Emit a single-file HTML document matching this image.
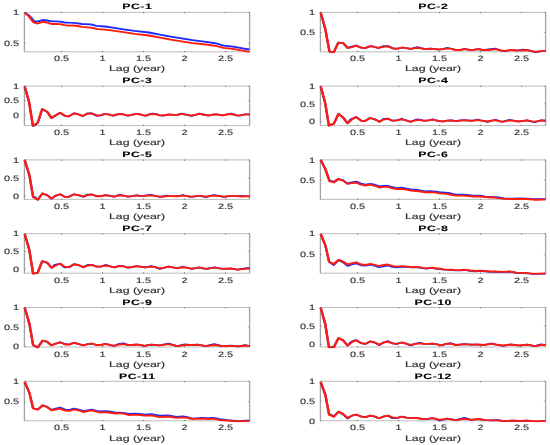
<!DOCTYPE html><html><head><meta charset="utf-8"><style>html,body{margin:0;padding:0;background:#fff;}svg{display:block}text{font-family:"Liberation Sans",sans-serif;fill:#2a2a2a;stroke:#2a2a2a;stroke-width:0.25px;text-rendering:geometricPrecision}</style></head><body>
<svg width="550" height="445" viewBox="0 0 550 445">
<defs><filter id="bl" x="-5%" y="-5%" width="110%" height="110%"><feGaussianBlur stdDeviation="0.40"/></filter></defs>
<rect width="550" height="445" fill="#fff"/>
<g filter="url(#bl)">
<path d="M23.95 12.30H250.05M23.95 51.80H250.05" stroke="#b4b4b4" stroke-width="0.90" fill="none"/>
<path d="M24.40 12.30V51.80M249.60 12.30V51.80" stroke="#a2a2a2" stroke-width="1.30" fill="none"/>
<path d="M61.60 52.10v-1.20M61.60 12.00v1.20" stroke="#6a6a6a" stroke-width="0.9"/>
<path d="M102.60 52.10v-1.20M102.60 12.00v1.20" stroke="#6a6a6a" stroke-width="0.9"/>
<path d="M143.60 52.10v-1.20M143.60 12.00v1.20" stroke="#6a6a6a" stroke-width="0.9"/>
<path d="M184.60 52.10v-1.20M184.60 12.00v1.20" stroke="#6a6a6a" stroke-width="0.9"/>
<path d="M225.60 52.10v-1.20M225.60 12.00v1.20" stroke="#6a6a6a" stroke-width="0.9"/>
<path d="M24.40 43.35h1.80M249.60 43.35h-1.80" stroke="#8c8c8c" stroke-width="0.7"/>
<path d="M24.40 12.30h1.80M249.60 12.30h-1.80" stroke="#8c8c8c" stroke-width="0.7"/>
<svg x="22.90" y="10.80" width="227.00" height="42.50" viewBox="22.90 10.80 227.00 42.50" overflow="hidden">
<g transform="translate(24.40 0) scale(1.300 1)"><polyline points="0.23,12.6 3.62,15.6 7.38,21.1 10.77,21.3 14.08,20.0 17.46,20.5 20.85,21.3 24.15,21.3 27.54,21.6 30.85,22.5 34.23,22.7 37.62,22.8 40.92,23.3 44.31,24.0 51.15,24.4 55.38,25.8 62.08,26.5 67.92,27.6 76.31,29.3 84.69,30.9 95.77,32.5 104.15,34.7 112.54,36.6 120.92,38.3 129.31,40.2 139.62,41.8 148.00,43.5 153.08,45.6 160.62,46.7 169.00,48.6 173.15,49.5" fill="none" stroke="#1a2aff" stroke-width="1.85" stroke-linejoin="round" stroke-linecap="butt"/></g>
<g transform="translate(24.40 0) scale(1.300 1)"><polyline points="0.23,12.6 3.62,16.5 7.00,22.4 10.31,23.5 14.08,21.9 17.46,22.5 20.85,24.0 24.15,23.8 27.54,24.1 30.85,25.1 34.23,25.7 37.62,25.5 40.92,26.0 44.31,26.8 51.15,27.6 56.23,29.1 62.08,29.6 67.92,30.7 76.31,32.2 84.69,33.9 95.77,35.5 104.15,37.7 112.54,39.6 120.92,41.3 129.31,43.1 139.62,44.5 148.00,46.2 153.08,47.8 160.62,48.9 169.00,50.8 173.15,51.9" fill="none" stroke="#ff1a0a" stroke-width="1.85" stroke-linejoin="round" stroke-linecap="butt"/></g>
</svg>
<text font-size="7.80" text-anchor="middle" style="stroke-width:0.1px" transform="translate(61.60 61.40) scale(1.400 1)">0.5</text>
<text font-size="7.80" text-anchor="middle" style="stroke-width:0.1px" transform="translate(102.60 61.40) scale(1.400 1)">1</text>
<text font-size="7.80" text-anchor="middle" style="stroke-width:0.1px" transform="translate(143.60 61.40) scale(1.400 1)">1.5</text>
<text font-size="7.80" text-anchor="middle" style="stroke-width:0.1px" transform="translate(184.60 61.40) scale(1.400 1)">2</text>
<text font-size="7.80" text-anchor="middle" style="stroke-width:0.1px" transform="translate(225.60 61.40) scale(1.400 1)">2.5</text>
<text font-size="7.80" text-anchor="end" style="stroke-width:0.1px" transform="translate(19.20 46.05) scale(1.400 1)">0.5</text>
<text font-size="7.80" text-anchor="end" style="stroke-width:0.1px" transform="translate(19.20 15.00) scale(1.400 1)">1</text>
<text font-size="7.90" text-anchor="middle" style="stroke-width:0.12px" transform="translate(137.00 70.90) scale(1.557 1)">Lag (year)</text>
<text font-size="7.80" font-weight="bold" text-anchor="middle" letter-spacing="0.30" transform="translate(137.24 9.20) scale(1.580 1)" style="fill:#000;stroke:#000;stroke-width:0.1px">PC-1</text>
<path d="M319.95 12.30H546.05M319.95 51.80H546.05" stroke="#b4b4b4" stroke-width="0.90" fill="none"/>
<path d="M320.40 12.30V51.80M545.60 12.30V51.80" stroke="#a2a2a2" stroke-width="1.30" fill="none"/>
<path d="M357.60 52.10v-1.20M357.60 12.00v1.20" stroke="#6a6a6a" stroke-width="0.9"/>
<path d="M398.60 52.10v-1.20M398.60 12.00v1.20" stroke="#6a6a6a" stroke-width="0.9"/>
<path d="M439.60 52.10v-1.20M439.60 12.00v1.20" stroke="#6a6a6a" stroke-width="0.9"/>
<path d="M480.60 52.10v-1.20M480.60 12.00v1.20" stroke="#6a6a6a" stroke-width="0.9"/>
<path d="M521.60 52.10v-1.20M521.60 12.00v1.20" stroke="#6a6a6a" stroke-width="0.9"/>
<path d="M320.40 32.45h1.80M545.60 32.45h-1.80" stroke="#8c8c8c" stroke-width="0.7"/>
<path d="M320.40 12.30h1.80M545.60 12.30h-1.80" stroke="#8c8c8c" stroke-width="0.7"/>
<svg x="318.90" y="10.80" width="227.00" height="42.50" viewBox="318.90 10.80 227.00 42.50" overflow="hidden">
<g transform="translate(320.40 0) scale(1.300 1)"><polyline points="0.23,12.6 3.62,28.2 7.00,51.6 10.31,52.2 13.69,42.7 17.46,43.1 20.85,47.7 24.15,46.6 27.54,45.6 30.85,47.5 34.23,48.1 38.46,46.2 41.77,46.9 44.31,48.0 48.62,46.1 52.00,46.1 56.23,48.6 59.54,48.7 62.92,47.5 67.08,48.4 69.62,48.9 73.85,47.2 76.31,47.5 78.00,48.4 80.54,49.1 84.69,48.6 88.92,49.2 90.77,49.5 94.08,49.2 97.46,47.8 100.85,48.7 104.15,50.0 107.54,50.0 110.85,48.7 115.08,50.0 118.46,49.7 121.77,49.1 125.15,50.0 129.31,49.4 134.69,48.7 138.85,50.5 141.38,51.3 146.38,50.0 151.46,50.5 155.62,49.6 159.00,50.0 162.38,51.1 165.69,52.1 169.92,51.1 173.23,51.2" fill="none" stroke="#1a2aff" stroke-width="1.70" stroke-linejoin="round" stroke-linecap="butt"/></g>
<g transform="translate(320.40 0) scale(1.300 1)"><polyline points="0.23,12.6 3.62,28.2 7.00,51.6 10.31,52.2 13.69,42.7 17.46,43.1 20.85,48.1 24.15,47.1 27.54,45.6 30.85,47.5 34.23,48.1 38.46,46.2 41.77,46.9 44.31,48.0 48.62,46.7 52.00,46.4 56.23,48.6 59.54,48.7 62.92,47.5 67.08,48.4 69.62,48.9 73.85,47.8 78.00,48.4 80.54,49.1 84.69,48.6 88.92,49.2 90.77,49.5 94.08,49.2 97.46,48.4 100.85,48.9 104.15,50.0 107.54,50.0 110.85,49.2 115.08,50.0 118.46,49.7 121.77,49.1 125.15,50.0 129.31,50.0 134.69,49.2 138.85,50.5 142.23,50.9 146.38,50.0 151.46,50.5 154.77,50.3 159.00,50.0 162.38,51.1 165.69,51.9 169.92,51.1 173.23,51.2" fill="none" stroke="#ff1a0a" stroke-width="1.85" stroke-linejoin="round" stroke-linecap="butt"/></g>
</svg>
<text font-size="7.80" text-anchor="middle" style="stroke-width:0.1px" transform="translate(357.60 61.40) scale(1.400 1)">0.5</text>
<text font-size="7.80" text-anchor="middle" style="stroke-width:0.1px" transform="translate(398.60 61.40) scale(1.400 1)">1</text>
<text font-size="7.80" text-anchor="middle" style="stroke-width:0.1px" transform="translate(439.60 61.40) scale(1.400 1)">1.5</text>
<text font-size="7.80" text-anchor="middle" style="stroke-width:0.1px" transform="translate(480.60 61.40) scale(1.400 1)">2</text>
<text font-size="7.80" text-anchor="middle" style="stroke-width:0.1px" transform="translate(521.60 61.40) scale(1.400 1)">2.5</text>
<text font-size="7.80" text-anchor="end" style="stroke-width:0.1px" transform="translate(315.20 35.15) scale(1.400 1)">0.5</text>
<text font-size="7.80" text-anchor="end" style="stroke-width:0.1px" transform="translate(315.20 15.00) scale(1.400 1)">1</text>
<text font-size="7.90" text-anchor="middle" style="stroke-width:0.12px" transform="translate(433.00 70.90) scale(1.557 1)">Lag (year)</text>
<text font-size="7.80" font-weight="bold" text-anchor="middle" letter-spacing="0.30" transform="translate(433.24 9.20) scale(1.580 1)" style="fill:#000;stroke:#000;stroke-width:0.1px">PC-2</text>
<path d="M23.95 86.10H250.05M23.95 125.60H250.05" stroke="#b4b4b4" stroke-width="0.90" fill="none"/>
<path d="M24.40 86.10V125.60M249.60 86.10V125.60" stroke="#a2a2a2" stroke-width="1.30" fill="none"/>
<path d="M61.60 125.90v-1.20M61.60 85.80v1.20" stroke="#6a6a6a" stroke-width="0.9"/>
<path d="M102.60 125.90v-1.20M102.60 85.80v1.20" stroke="#6a6a6a" stroke-width="0.9"/>
<path d="M143.60 125.90v-1.20M143.60 85.80v1.20" stroke="#6a6a6a" stroke-width="0.9"/>
<path d="M184.60 125.90v-1.20M184.60 85.80v1.20" stroke="#6a6a6a" stroke-width="0.9"/>
<path d="M225.60 125.90v-1.20M225.60 85.80v1.20" stroke="#6a6a6a" stroke-width="0.9"/>
<path d="M24.40 115.27h1.80M249.60 115.27h-1.80" stroke="#8c8c8c" stroke-width="0.7"/>
<path d="M24.40 100.69h1.80M249.60 100.69h-1.80" stroke="#8c8c8c" stroke-width="0.7"/>
<path d="M24.40 86.10h1.80M249.60 86.10h-1.80" stroke="#8c8c8c" stroke-width="0.7"/>
<svg x="22.90" y="84.60" width="227.00" height="42.50" viewBox="22.90 84.60 227.00 42.50" overflow="hidden">
<g transform="translate(24.40 0) scale(1.300 1)"><polyline points="0.23,86.4 3.62,102.2 6.54,125.9 8.23,125.2 10.31,122.6 13.69,109.1 17.46,111.7 20.85,118.0 24.15,115.3 27.54,112.8 31.31,116.0 34.23,116.4 38.00,113.4 40.92,113.9 44.31,115.8 45.31,115.8 48.23,113.3 51.62,113.3 55.38,115.8 58.69,115.3 62.08,113.9 65.46,114.7 67.92,115.7 70.46,114.6 73.85,113.8 75.46,114.2 79.69,115.6 83.08,114.7 86.38,113.9 89.92,114.7 93.23,115.8 96.62,114.1 98.31,113.6 100.85,113.8 104.15,115.3 106.69,115.6 110.85,114.5 115.08,114.9 117.62,114.9 120.92,113.5 124.31,114.7 128.54,115.9 133.54,114.2 134.62,113.6 138.77,114.9 141.31,115.6 145.92,114.4 148.85,114.5 152.23,115.3 155.54,114.5 158.92,113.6 163.15,115.3 164.77,115.8 169.85,114.4 173.23,114.4" fill="none" stroke="#1a2aff" stroke-width="1.70" stroke-linejoin="round" stroke-linecap="butt"/></g>
<g transform="translate(24.40 0) scale(1.300 1)"><polyline points="0.23,86.4 3.62,102.2 6.54,125.9 10.31,122.6 13.69,109.1 17.46,111.7 20.85,118.0 24.15,115.3 27.54,112.8 31.31,116.0 34.23,116.4 38.00,113.4 40.92,114.2 44.31,115.8 45.31,115.8 48.23,113.9 51.62,113.3 55.38,115.3 58.69,115.3 62.08,113.9 65.46,114.7 68.77,115.6 72.15,114.2 75.46,114.2 79.69,115.6 83.08,114.7 86.38,113.9 89.92,114.7 93.23,115.8 96.62,114.2 100.85,114.2 104.15,115.3 107.54,115.3 110.85,114.5 115.08,114.9 117.62,114.9 120.92,113.9 124.31,114.7 128.54,115.6 133.54,114.2 135.46,114.0 138.77,114.9 142.15,115.3 145.92,114.4 148.85,114.5 152.23,115.3 155.54,114.5 158.92,114.0 163.15,115.3 166.46,115.3 169.85,114.4 173.23,114.4" fill="none" stroke="#ff1a0a" stroke-width="1.85" stroke-linejoin="round" stroke-linecap="butt"/></g>
</svg>
<text font-size="7.80" text-anchor="middle" style="stroke-width:0.1px" transform="translate(61.60 135.20) scale(1.400 1)">0.5</text>
<text font-size="7.80" text-anchor="middle" style="stroke-width:0.1px" transform="translate(102.60 135.20) scale(1.400 1)">1</text>
<text font-size="7.80" text-anchor="middle" style="stroke-width:0.1px" transform="translate(143.60 135.20) scale(1.400 1)">1.5</text>
<text font-size="7.80" text-anchor="middle" style="stroke-width:0.1px" transform="translate(184.60 135.20) scale(1.400 1)">2</text>
<text font-size="7.80" text-anchor="middle" style="stroke-width:0.1px" transform="translate(225.60 135.20) scale(1.400 1)">2.5</text>
<text font-size="7.80" text-anchor="end" style="stroke-width:0.1px" transform="translate(19.20 117.97) scale(1.400 1)">0</text>
<text font-size="7.80" text-anchor="end" style="stroke-width:0.1px" transform="translate(19.20 103.39) scale(1.400 1)">0.5</text>
<text font-size="7.80" text-anchor="end" style="stroke-width:0.1px" transform="translate(19.20 88.80) scale(1.400 1)">1</text>
<text font-size="7.90" text-anchor="middle" style="stroke-width:0.12px" transform="translate(137.00 144.90) scale(1.557 1)">Lag (year)</text>
<text font-size="7.80" font-weight="bold" text-anchor="middle" letter-spacing="0.30" transform="translate(137.24 83.20) scale(1.580 1)" style="fill:#000;stroke:#000;stroke-width:0.1px">PC-3</text>
<path d="M319.95 86.10H546.05M319.95 125.60H546.05" stroke="#b4b4b4" stroke-width="0.90" fill="none"/>
<path d="M320.40 86.10V125.60M545.60 86.10V125.60" stroke="#a2a2a2" stroke-width="1.30" fill="none"/>
<path d="M357.60 125.90v-1.20M357.60 85.80v1.20" stroke="#6a6a6a" stroke-width="0.9"/>
<path d="M398.60 125.90v-1.20M398.60 85.80v1.20" stroke="#6a6a6a" stroke-width="0.9"/>
<path d="M439.60 125.90v-1.20M439.60 85.80v1.20" stroke="#6a6a6a" stroke-width="0.9"/>
<path d="M480.60 125.90v-1.20M480.60 85.80v1.20" stroke="#6a6a6a" stroke-width="0.9"/>
<path d="M521.60 125.90v-1.20M521.60 85.80v1.20" stroke="#6a6a6a" stroke-width="0.9"/>
<path d="M320.40 121.69h1.80M545.60 121.69h-1.80" stroke="#8c8c8c" stroke-width="0.7"/>
<path d="M320.40 103.89h1.80M545.60 103.89h-1.80" stroke="#8c8c8c" stroke-width="0.7"/>
<path d="M320.40 86.10h1.80M545.60 86.10h-1.80" stroke="#8c8c8c" stroke-width="0.7"/>
<svg x="318.90" y="84.60" width="227.00" height="42.50" viewBox="318.90 84.60 227.00 42.50" overflow="hidden">
<g transform="translate(320.40 0) scale(1.300 1)"><polyline points="0.23,86.4 3.62,102.7 6.54,125.6 8.23,124.6 10.31,123.7 13.92,113.9 17.46,117.5 20.85,123.2 23.31,119.2 27.54,117.1 31.31,120.7 34.23,121.1 38.23,118.0 41.38,119.2 44.31,120.7 45.31,121.8 48.62,118.8 52.00,118.7 55.38,120.7 58.69,120.4 62.46,118.7 65.46,120.2 69.23,121.8 72.15,120.4 74.69,119.4 77.38,119.8 79.69,120.7 83.08,120.4 86.38,119.2 88.92,120.4 90.77,120.9 94.08,121.5 97.46,120.7 100.85,120.4 104.15,121.1 107.54,120.4 110.85,120.2 114.23,120.7 117.62,120.5 120.92,119.6 124.31,120.7 128.54,121.9 133.54,120.2 134.69,119.8 139.69,121.8 145.54,119.8 152.31,121.5 159.00,120.4 164.85,122.3 169.92,120.4 173.23,120.7" fill="none" stroke="#1a2aff" stroke-width="1.70" stroke-linejoin="round" stroke-linecap="butt"/></g>
<g transform="translate(320.40 0) scale(1.300 1)"><polyline points="0.23,86.4 3.62,102.7 6.54,125.6 10.31,123.7 13.92,113.9 17.46,117.5 20.85,123.2 24.15,119.6 27.54,117.1 31.31,120.7 34.23,121.1 38.23,118.0 41.38,119.1 44.31,120.7 45.31,121.8 48.62,119.6 52.00,118.8 55.38,120.7 58.69,120.4 62.46,119.3 65.46,120.2 69.23,121.8 72.15,120.7 75.92,119.9 79.69,120.9 83.08,120.4 86.38,119.6 88.92,120.4 90.77,120.9 94.08,121.5 97.46,120.7 100.85,120.4 104.15,121.1 107.54,120.7 110.85,120.2 114.23,120.7 117.62,120.7 120.92,120.2 124.31,120.7 128.54,121.5 133.54,120.2 134.69,120.4 139.69,121.8 145.54,120.4 152.31,121.5 159.00,120.4 164.00,121.8 169.92,120.4 173.23,120.7" fill="none" stroke="#ff1a0a" stroke-width="1.85" stroke-linejoin="round" stroke-linecap="butt"/></g>
</svg>
<text font-size="7.80" text-anchor="middle" style="stroke-width:0.1px" transform="translate(357.60 135.20) scale(1.400 1)">0.5</text>
<text font-size="7.80" text-anchor="middle" style="stroke-width:0.1px" transform="translate(398.60 135.20) scale(1.400 1)">1</text>
<text font-size="7.80" text-anchor="middle" style="stroke-width:0.1px" transform="translate(439.60 135.20) scale(1.400 1)">1.5</text>
<text font-size="7.80" text-anchor="middle" style="stroke-width:0.1px" transform="translate(480.60 135.20) scale(1.400 1)">2</text>
<text font-size="7.80" text-anchor="middle" style="stroke-width:0.1px" transform="translate(521.60 135.20) scale(1.400 1)">2.5</text>
<text font-size="7.80" text-anchor="end" style="stroke-width:0.1px" transform="translate(315.20 124.39) scale(1.400 1)">0</text>
<text font-size="7.80" text-anchor="end" style="stroke-width:0.1px" transform="translate(315.20 106.59) scale(1.400 1)">0.5</text>
<text font-size="7.80" text-anchor="end" style="stroke-width:0.1px" transform="translate(315.20 88.80) scale(1.400 1)">1</text>
<text font-size="7.90" text-anchor="middle" style="stroke-width:0.12px" transform="translate(433.00 144.90) scale(1.557 1)">Lag (year)</text>
<text font-size="7.80" font-weight="bold" text-anchor="middle" letter-spacing="0.30" transform="translate(433.24 83.20) scale(1.580 1)" style="fill:#000;stroke:#000;stroke-width:0.1px">PC-4</text>
<path d="M23.95 159.90H250.05M23.95 199.40H250.05" stroke="#b4b4b4" stroke-width="0.90" fill="none"/>
<path d="M24.40 159.90V199.40M249.60 159.90V199.40" stroke="#a2a2a2" stroke-width="1.30" fill="none"/>
<path d="M61.60 199.70v-1.20M61.60 159.60v1.20" stroke="#6a6a6a" stroke-width="0.9"/>
<path d="M102.60 199.70v-1.20M102.60 159.60v1.20" stroke="#6a6a6a" stroke-width="0.9"/>
<path d="M143.60 199.70v-1.20M143.60 159.60v1.20" stroke="#6a6a6a" stroke-width="0.9"/>
<path d="M184.60 199.70v-1.20M184.60 159.60v1.20" stroke="#6a6a6a" stroke-width="0.9"/>
<path d="M225.60 199.70v-1.20M225.60 159.60v1.20" stroke="#6a6a6a" stroke-width="0.9"/>
<path d="M24.40 196.14h1.80M249.60 196.14h-1.80" stroke="#8c8c8c" stroke-width="0.7"/>
<path d="M24.40 178.02h1.80M249.60 178.02h-1.80" stroke="#8c8c8c" stroke-width="0.7"/>
<path d="M24.40 159.90h1.80M249.60 159.90h-1.80" stroke="#8c8c8c" stroke-width="0.7"/>
<svg x="22.90" y="158.40" width="227.00" height="42.50" viewBox="22.90 158.40 227.00 42.50" overflow="hidden">
<g transform="translate(24.40 0) scale(1.300 1)"><polyline points="0.23,159.9 3.85,175.2 6.69,197.0 7.77,196.8 10.31,199.7 13.92,193.4 15.46,194.5 17.46,195.1 20.85,198.6 24.15,195.6 27.54,194.3 31.31,197.0 34.23,196.8 38.23,194.3 41.38,195.2 44.31,196.2 45.31,196.8 48.62,194.5 52.00,194.5 55.38,196.2 58.69,196.2 62.46,195.1 65.85,195.9 69.23,196.7 73.00,194.8 76.31,195.6 79.69,196.7 83.08,196.2 86.38,195.4 88.92,195.9 91.62,195.9 96.62,194.8 100.85,195.9 104.15,196.8 109.23,195.6 110.85,195.9 115.08,196.2 118.46,196.2 121.77,195.0 125.15,196.2 128.54,196.8 133.54,195.9 135.46,195.9 139.62,197.1 145.46,195.0 149.69,195.9 153.08,196.8 158.92,195.9 163.15,196.2 167.31,195.9 170.69,196.2 173.23,196.5" fill="none" stroke="#1a2aff" stroke-width="1.70" stroke-linejoin="round" stroke-linecap="butt"/></g>
<g transform="translate(24.40 0) scale(1.300 1)"><polyline points="0.23,159.9 3.85,175.2 6.69,197.0 10.31,199.7 13.92,193.4 17.46,195.1 20.85,198.6 24.15,195.6 27.54,194.3 31.31,197.0 34.23,196.8 38.23,194.3 41.38,194.8 44.31,196.2 45.31,196.8 48.62,195.1 52.00,194.5 55.38,196.2 58.69,196.2 62.46,195.1 65.85,195.9 69.23,196.7 73.00,195.4 76.31,195.6 79.69,196.7 83.08,196.2 86.38,195.4 88.92,195.9 91.62,195.9 96.62,195.4 100.85,195.9 104.15,196.8 107.54,196.5 110.85,195.9 115.08,196.2 118.46,196.2 121.77,195.6 125.15,196.2 128.54,196.8 133.54,195.9 135.46,195.9 139.62,196.7 145.46,195.6 149.69,195.9 153.08,196.8 158.92,195.9 163.15,196.2 167.31,196.5 170.69,196.2 173.23,196.5" fill="none" stroke="#ff1a0a" stroke-width="1.85" stroke-linejoin="round" stroke-linecap="butt"/></g>
</svg>
<text font-size="7.80" text-anchor="middle" style="stroke-width:0.1px" transform="translate(61.60 209.00) scale(1.400 1)">0.5</text>
<text font-size="7.80" text-anchor="middle" style="stroke-width:0.1px" transform="translate(102.60 209.00) scale(1.400 1)">1</text>
<text font-size="7.80" text-anchor="middle" style="stroke-width:0.1px" transform="translate(143.60 209.00) scale(1.400 1)">1.5</text>
<text font-size="7.80" text-anchor="middle" style="stroke-width:0.1px" transform="translate(184.60 209.00) scale(1.400 1)">2</text>
<text font-size="7.80" text-anchor="middle" style="stroke-width:0.1px" transform="translate(225.60 209.00) scale(1.400 1)">2.5</text>
<text font-size="7.80" text-anchor="end" style="stroke-width:0.1px" transform="translate(19.20 198.84) scale(1.400 1)">0</text>
<text font-size="7.80" text-anchor="end" style="stroke-width:0.1px" transform="translate(19.20 180.72) scale(1.400 1)">0.5</text>
<text font-size="7.80" text-anchor="end" style="stroke-width:0.1px" transform="translate(19.20 162.60) scale(1.400 1)">1</text>
<text font-size="7.90" text-anchor="middle" style="stroke-width:0.12px" transform="translate(137.00 218.90) scale(1.557 1)">Lag (year)</text>
<text font-size="7.80" font-weight="bold" text-anchor="middle" letter-spacing="0.30" transform="translate(137.24 157.10) scale(1.580 1)" style="fill:#000;stroke:#000;stroke-width:0.1px">PC-5</text>
<path d="M319.95 159.90H546.05M319.95 199.40H546.05" stroke="#b4b4b4" stroke-width="0.90" fill="none"/>
<path d="M320.40 159.90V199.40M545.60 159.90V199.40" stroke="#a2a2a2" stroke-width="1.30" fill="none"/>
<path d="M357.60 199.70v-1.20M357.60 159.60v1.20" stroke="#6a6a6a" stroke-width="0.9"/>
<path d="M398.60 199.70v-1.20M398.60 159.60v1.20" stroke="#6a6a6a" stroke-width="0.9"/>
<path d="M439.60 199.70v-1.20M439.60 159.60v1.20" stroke="#6a6a6a" stroke-width="0.9"/>
<path d="M480.60 199.70v-1.20M480.60 159.60v1.20" stroke="#6a6a6a" stroke-width="0.9"/>
<path d="M521.60 199.70v-1.20M521.60 159.60v1.20" stroke="#6a6a6a" stroke-width="0.9"/>
<path d="M320.40 180.05h1.80M545.60 180.05h-1.80" stroke="#8c8c8c" stroke-width="0.7"/>
<path d="M320.40 159.90h1.80M545.60 159.90h-1.80" stroke="#8c8c8c" stroke-width="0.7"/>
<svg x="318.90" y="158.40" width="227.00" height="42.50" viewBox="318.90 158.40 227.00 42.50" overflow="hidden">
<g transform="translate(320.40 0) scale(1.300 1)"><polyline points="0.23,159.9 3.85,169.2 7.00,180.6 10.31,181.7 13.92,179.0 17.46,180.4 20.85,183.4 24.15,182.3 27.54,181.5 31.31,183.6 34.69,184.5 38.46,183.9 41.77,184.7 44.31,185.8 45.31,186.4 48.62,185.9 52.00,185.8 55.38,187.2 58.69,188.0 62.46,187.7 66.23,188.6 69.62,189.4 73.85,189.7 77.15,190.5 80.54,191.3 84.69,191.2 88.92,191.5 91.62,192.1 95.77,192.6 100.00,193.2 104.15,194.5 109.23,194.5 112.54,194.8 117.62,195.6 122.62,195.6 126.85,196.5 131.00,196.8 135.46,197.0 141.38,198.4 147.23,198.6 153.92,198.4 159.00,198.5 164.00,199.2 169.08,199.2 173.23,199.0" fill="none" stroke="#1a2aff" stroke-width="1.70" stroke-linejoin="round" stroke-linecap="butt"/></g>
<g transform="translate(320.40 0) scale(1.300 1)"><polyline points="0.23,159.9 3.85,169.2 7.00,181.2 10.31,182.5 13.92,179.0 17.46,180.6 20.85,183.9 24.15,183.1 27.54,182.5 31.31,184.7 34.69,185.5 38.46,184.7 41.77,185.8 44.31,186.9 45.31,187.5 48.62,186.9 52.00,186.9 55.38,188.3 58.69,189.0 62.46,188.8 66.23,189.7 69.62,190.5 73.85,191.0 77.15,191.5 80.54,192.3 84.69,192.1 88.92,192.6 91.62,193.4 95.77,193.7 100.00,194.5 104.15,195.6 109.23,195.6 112.54,195.9 117.62,196.5 122.62,196.5 126.85,197.0 131.00,197.5 133.54,197.5 135.46,197.9 141.38,198.9 147.23,199.0 153.92,199.0 159.00,199.0 164.00,199.7 169.08,199.7 173.23,199.5" fill="none" stroke="#ff1a0a" stroke-width="1.85" stroke-linejoin="round" stroke-linecap="butt"/></g>
</svg>
<text font-size="7.80" text-anchor="middle" style="stroke-width:0.1px" transform="translate(357.60 209.00) scale(1.400 1)">0.5</text>
<text font-size="7.80" text-anchor="middle" style="stroke-width:0.1px" transform="translate(398.60 209.00) scale(1.400 1)">1</text>
<text font-size="7.80" text-anchor="middle" style="stroke-width:0.1px" transform="translate(439.60 209.00) scale(1.400 1)">1.5</text>
<text font-size="7.80" text-anchor="middle" style="stroke-width:0.1px" transform="translate(480.60 209.00) scale(1.400 1)">2</text>
<text font-size="7.80" text-anchor="middle" style="stroke-width:0.1px" transform="translate(521.60 209.00) scale(1.400 1)">2.5</text>
<text font-size="7.80" text-anchor="end" style="stroke-width:0.1px" transform="translate(315.20 182.75) scale(1.400 1)">0.5</text>
<text font-size="7.80" text-anchor="end" style="stroke-width:0.1px" transform="translate(315.20 162.60) scale(1.400 1)">1</text>
<text font-size="7.90" text-anchor="middle" style="stroke-width:0.12px" transform="translate(433.00 218.90) scale(1.557 1)">Lag (year)</text>
<text font-size="7.80" font-weight="bold" text-anchor="middle" letter-spacing="0.30" transform="translate(433.24 157.10) scale(1.580 1)" style="fill:#000;stroke:#000;stroke-width:0.1px">PC-6</text>
<path d="M23.95 233.70H250.05M23.95 273.20H250.05" stroke="#b4b4b4" stroke-width="0.90" fill="none"/>
<path d="M24.40 233.70V273.20M249.60 233.70V273.20" stroke="#a2a2a2" stroke-width="1.30" fill="none"/>
<path d="M61.60 273.50v-1.20M61.60 233.40v1.20" stroke="#6a6a6a" stroke-width="0.9"/>
<path d="M102.60 273.50v-1.20M102.60 233.40v1.20" stroke="#6a6a6a" stroke-width="0.9"/>
<path d="M143.60 273.50v-1.20M143.60 233.40v1.20" stroke="#6a6a6a" stroke-width="0.9"/>
<path d="M184.60 273.50v-1.20M184.60 233.40v1.20" stroke="#6a6a6a" stroke-width="0.9"/>
<path d="M225.60 273.50v-1.20M225.60 233.40v1.20" stroke="#6a6a6a" stroke-width="0.9"/>
<path d="M24.40 269.13h1.80M249.60 269.13h-1.80" stroke="#8c8c8c" stroke-width="0.7"/>
<path d="M24.40 251.41h1.80M249.60 251.41h-1.80" stroke="#8c8c8c" stroke-width="0.7"/>
<path d="M24.40 233.70h1.80M249.60 233.70h-1.80" stroke="#8c8c8c" stroke-width="0.7"/>
<svg x="22.90" y="232.20" width="227.00" height="42.50" viewBox="22.90 232.20 227.00 42.50" overflow="hidden">
<g transform="translate(24.40 0) scale(1.300 1)"><polyline points="0.23,233.9 3.85,250.3 6.69,273.7 8.23,273.5 10.31,272.6 13.69,261.2 17.46,262.6 20.85,267.7 23.31,264.9 27.54,263.7 30.85,267.3 34.23,267.2 38.46,264.0 41.38,265.0 44.31,266.6 45.31,267.2 48.62,264.9 52.00,264.8 55.38,266.6 58.69,266.6 62.46,264.9 65.85,266.3 69.23,267.4 73.00,265.8 74.69,265.8 76.31,266.3 79.69,267.7 83.08,267.0 86.38,266.1 88.92,266.6 93.23,267.4 97.46,266.1 100.85,267.2 104.15,268.9 107.54,267.7 110.85,266.6 114.23,267.4 117.62,268.1 121.77,266.8 125.15,267.7 128.54,268.8 133.54,267.7 134.62,267.7 139.62,268.8 146.31,267.3 152.23,268.8 158.92,268.5 163.92,269.6 168.15,268.7 170.69,268.0 173.23,267.8" fill="none" stroke="#1a2aff" stroke-width="1.70" stroke-linejoin="round" stroke-linecap="butt"/></g>
<g transform="translate(24.40 0) scale(1.300 1)"><polyline points="0.23,233.9 3.85,250.3 6.69,273.7 10.31,272.6 13.69,261.2 17.46,262.6 20.85,267.7 24.15,265.5 27.54,263.7 30.85,266.6 34.23,267.2 38.00,264.5 41.38,265.0 44.31,266.6 45.31,267.2 48.62,265.5 52.00,265.0 55.38,266.6 58.69,266.6 62.46,265.5 65.85,266.3 69.23,267.4 73.00,266.1 76.31,266.4 79.69,267.7 83.08,267.0 86.38,266.1 88.92,266.6 93.23,267.4 97.46,266.6 100.85,267.2 104.15,268.5 107.54,267.7 110.85,266.6 114.23,267.4 117.62,268.1 121.77,267.4 125.15,267.7 128.54,268.8 133.54,267.7 134.62,267.7 139.62,268.8 146.31,267.7 152.23,268.8 158.92,268.5 163.92,269.6 168.15,269.1 173.23,268.5" fill="none" stroke="#ff1a0a" stroke-width="1.85" stroke-linejoin="round" stroke-linecap="butt"/></g>
</svg>
<text font-size="7.80" text-anchor="middle" style="stroke-width:0.1px" transform="translate(61.60 282.80) scale(1.400 1)">0.5</text>
<text font-size="7.80" text-anchor="middle" style="stroke-width:0.1px" transform="translate(102.60 282.80) scale(1.400 1)">1</text>
<text font-size="7.80" text-anchor="middle" style="stroke-width:0.1px" transform="translate(143.60 282.80) scale(1.400 1)">1.5</text>
<text font-size="7.80" text-anchor="middle" style="stroke-width:0.1px" transform="translate(184.60 282.80) scale(1.400 1)">2</text>
<text font-size="7.80" text-anchor="middle" style="stroke-width:0.1px" transform="translate(225.60 282.80) scale(1.400 1)">2.5</text>
<text font-size="7.80" text-anchor="end" style="stroke-width:0.1px" transform="translate(19.20 271.83) scale(1.400 1)">0</text>
<text font-size="7.80" text-anchor="end" style="stroke-width:0.1px" transform="translate(19.20 254.11) scale(1.400 1)">0.5</text>
<text font-size="7.80" text-anchor="end" style="stroke-width:0.1px" transform="translate(19.20 236.40) scale(1.400 1)">1</text>
<text font-size="7.90" text-anchor="middle" style="stroke-width:0.12px" transform="translate(137.00 292.90) scale(1.557 1)">Lag (year)</text>
<text font-size="7.80" font-weight="bold" text-anchor="middle" letter-spacing="0.30" transform="translate(137.24 231.00) scale(1.580 1)" style="fill:#000;stroke:#000;stroke-width:0.1px">PC-7</text>
<path d="M319.95 233.70H546.05M319.95 273.20H546.05" stroke="#b4b4b4" stroke-width="0.90" fill="none"/>
<path d="M320.40 233.70V273.20M545.60 233.70V273.20" stroke="#a2a2a2" stroke-width="1.30" fill="none"/>
<path d="M357.60 273.50v-1.20M357.60 233.40v1.20" stroke="#6a6a6a" stroke-width="0.9"/>
<path d="M398.60 273.50v-1.20M398.60 233.40v1.20" stroke="#6a6a6a" stroke-width="0.9"/>
<path d="M439.60 273.50v-1.20M439.60 233.40v1.20" stroke="#6a6a6a" stroke-width="0.9"/>
<path d="M480.60 273.50v-1.20M480.60 233.40v1.20" stroke="#6a6a6a" stroke-width="0.9"/>
<path d="M521.60 273.50v-1.20M521.60 233.40v1.20" stroke="#6a6a6a" stroke-width="0.9"/>
<path d="M320.40 254.71h1.80M545.60 254.71h-1.80" stroke="#8c8c8c" stroke-width="0.7"/>
<path d="M320.40 233.70h1.80M545.60 233.70h-1.80" stroke="#8c8c8c" stroke-width="0.7"/>
<svg x="318.90" y="232.20" width="227.00" height="42.50" viewBox="318.90 232.20 227.00 42.50" overflow="hidden">
<g transform="translate(320.40 0) scale(1.300 1)"><polyline points="0.23,233.9 3.85,245.4 6.69,261.9 10.31,265.0 13.92,260.2 17.46,262.2 20.85,265.9 24.15,264.4 27.54,263.4 31.31,265.3 34.69,265.6 38.46,264.6 41.77,265.6 44.31,267.0 45.31,267.2 48.62,266.3 52.00,265.5 55.38,267.0 58.69,267.4 62.92,267.0 67.08,266.9 70.46,267.5 74.69,267.3 78.00,268.0 81.38,268.6 86.38,268.0 88.92,268.8 90.77,268.8 94.92,269.7 100.00,269.9 104.15,270.5 108.38,270.3 110.85,270.0 115.08,270.8 119.31,271.3 122.62,271.0 126.85,271.3 131.00,271.8 133.54,271.6 135.46,271.8 140.54,272.1 145.54,271.6 150.62,272.9 155.62,273.2 159.85,273.5 164.00,274.3 169.08,274.0 173.23,273.8" fill="none" stroke="#1a2aff" stroke-width="1.70" stroke-linejoin="round" stroke-linecap="butt"/></g>
<g transform="translate(320.40 0) scale(1.300 1)"><polyline points="0.23,233.9 3.85,245.4 6.69,261.7 10.31,264.1 13.92,259.8 17.46,261.5 20.85,264.5 24.15,263.4 27.54,262.3 31.31,264.5 34.69,265.0 38.46,263.9 41.77,264.8 44.31,265.9 45.31,265.9 48.62,265.0 52.00,264.5 55.38,265.9 58.69,266.6 62.92,266.1 67.08,266.6 70.46,267.2 74.69,267.0 78.00,267.7 81.38,268.3 86.38,267.7 88.92,268.5 90.77,268.5 94.92,269.4 100.00,269.6 104.15,270.2 108.38,270.0 110.85,269.7 115.08,270.5 119.31,271.0 122.62,270.7 126.85,271.0 131.00,271.5 133.54,271.3 135.46,271.5 140.54,271.8 145.54,271.3 150.62,272.6 155.62,272.9 159.85,273.2 164.00,274.0 169.08,273.7 173.23,273.5" fill="none" stroke="#ff1a0a" stroke-width="1.85" stroke-linejoin="round" stroke-linecap="butt"/></g>
</svg>
<text font-size="7.80" text-anchor="middle" style="stroke-width:0.1px" transform="translate(357.60 282.80) scale(1.400 1)">0.5</text>
<text font-size="7.80" text-anchor="middle" style="stroke-width:0.1px" transform="translate(398.60 282.80) scale(1.400 1)">1</text>
<text font-size="7.80" text-anchor="middle" style="stroke-width:0.1px" transform="translate(439.60 282.80) scale(1.400 1)">1.5</text>
<text font-size="7.80" text-anchor="middle" style="stroke-width:0.1px" transform="translate(480.60 282.80) scale(1.400 1)">2</text>
<text font-size="7.80" text-anchor="middle" style="stroke-width:0.1px" transform="translate(521.60 282.80) scale(1.400 1)">2.5</text>
<text font-size="7.80" text-anchor="end" style="stroke-width:0.1px" transform="translate(315.20 257.41) scale(1.400 1)">0.5</text>
<text font-size="7.80" text-anchor="end" style="stroke-width:0.1px" transform="translate(315.20 236.40) scale(1.400 1)">1</text>
<text font-size="7.90" text-anchor="middle" style="stroke-width:0.12px" transform="translate(433.00 292.90) scale(1.557 1)">Lag (year)</text>
<text font-size="7.80" font-weight="bold" text-anchor="middle" letter-spacing="0.30" transform="translate(433.24 231.00) scale(1.580 1)" style="fill:#000;stroke:#000;stroke-width:0.1px">PC-8</text>
<path d="M23.95 307.50H250.05M23.95 347.00H250.05" stroke="#b4b4b4" stroke-width="0.90" fill="none"/>
<path d="M24.40 307.50V347.00M249.60 307.50V347.00" stroke="#a2a2a2" stroke-width="1.30" fill="none"/>
<path d="M61.60 347.30v-1.20M61.60 307.20v1.20" stroke="#6a6a6a" stroke-width="0.9"/>
<path d="M102.60 347.30v-1.20M102.60 307.20v1.20" stroke="#6a6a6a" stroke-width="0.9"/>
<path d="M143.60 347.30v-1.20M143.60 307.20v1.20" stroke="#6a6a6a" stroke-width="0.9"/>
<path d="M184.60 347.30v-1.20M184.60 307.20v1.20" stroke="#6a6a6a" stroke-width="0.9"/>
<path d="M225.60 347.30v-1.20M225.60 307.20v1.20" stroke="#6a6a6a" stroke-width="0.9"/>
<path d="M24.40 346.42h1.80M249.60 346.42h-1.80" stroke="#8c8c8c" stroke-width="0.7"/>
<path d="M24.40 326.96h1.80M249.60 326.96h-1.80" stroke="#8c8c8c" stroke-width="0.7"/>
<path d="M24.40 307.50h1.80M249.60 307.50h-1.80" stroke="#8c8c8c" stroke-width="0.7"/>
<svg x="22.90" y="306.00" width="227.00" height="42.50" viewBox="22.90 306.00 227.00 42.50" overflow="hidden">
<g transform="translate(24.40 0) scale(1.300 1)"><polyline points="0.23,307.6 3.85,323.7 6.69,345.0 10.31,347.5 13.92,340.6 14.92,341.0 17.46,341.9 20.85,345.3 24.15,343.6 27.54,342.3 31.31,344.1 32.54,344.0 34.23,344.5 38.00,342.8 41.38,343.9 44.31,345.0 45.31,345.3 48.62,344.2 52.00,343.6 55.38,345.0 58.69,345.0 62.46,343.9 65.85,345.0 69.23,345.8 73.00,343.8 76.31,343.3 79.69,345.0 83.08,344.8 86.38,344.5 88.92,345.0 92.38,345.8 97.46,344.7 104.15,345.3 110.85,343.6 117.62,346.1 123.46,344.4 128.54,345.0 133.54,344.7 135.46,345.2 139.62,346.1 145.92,344.1 152.23,346.1 158.92,345.6 164.77,346.4 169.85,345.1 173.23,346.1" fill="none" stroke="#1a2aff" stroke-width="1.70" stroke-linejoin="round" stroke-linecap="butt"/></g>
<g transform="translate(24.40 0) scale(1.300 1)"><polyline points="0.23,307.6 3.85,323.7 6.69,345.0 10.31,347.5 13.92,340.6 17.46,341.7 20.85,345.3 24.15,343.6 27.54,342.3 31.31,344.5 34.23,344.7 38.00,342.8 41.38,343.9 44.31,345.0 45.31,345.3 48.62,344.2 52.00,343.6 55.38,345.0 58.69,345.0 62.46,343.9 65.85,345.0 69.23,345.8 73.00,344.5 76.31,344.1 79.69,345.0 83.08,344.8 86.38,344.5 88.92,345.0 92.38,345.8 97.46,344.7 104.15,345.3 110.85,344.2 117.62,346.1 123.46,345.0 128.54,345.0 133.54,344.7 135.46,345.2 139.62,346.1 145.92,345.0 152.23,346.1 158.92,345.8 164.77,346.4 169.85,345.5 173.23,346.1" fill="none" stroke="#ff1a0a" stroke-width="1.85" stroke-linejoin="round" stroke-linecap="butt"/></g>
</svg>
<text font-size="7.80" text-anchor="middle" style="stroke-width:0.1px" transform="translate(61.60 356.60) scale(1.400 1)">0.5</text>
<text font-size="7.80" text-anchor="middle" style="stroke-width:0.1px" transform="translate(102.60 356.60) scale(1.400 1)">1</text>
<text font-size="7.80" text-anchor="middle" style="stroke-width:0.1px" transform="translate(143.60 356.60) scale(1.400 1)">1.5</text>
<text font-size="7.80" text-anchor="middle" style="stroke-width:0.1px" transform="translate(184.60 356.60) scale(1.400 1)">2</text>
<text font-size="7.80" text-anchor="middle" style="stroke-width:0.1px" transform="translate(225.60 356.60) scale(1.400 1)">2.5</text>
<text font-size="7.80" text-anchor="end" style="stroke-width:0.1px" transform="translate(19.20 349.12) scale(1.400 1)">0</text>
<text font-size="7.80" text-anchor="end" style="stroke-width:0.1px" transform="translate(19.20 329.66) scale(1.400 1)">0.5</text>
<text font-size="7.80" text-anchor="end" style="stroke-width:0.1px" transform="translate(19.20 310.20) scale(1.400 1)">1</text>
<text font-size="7.90" text-anchor="middle" style="stroke-width:0.12px" transform="translate(137.00 366.90) scale(1.557 1)">Lag (year)</text>
<text font-size="7.80" font-weight="bold" text-anchor="middle" letter-spacing="0.30" transform="translate(137.24 304.80) scale(1.580 1)" style="fill:#000;stroke:#000;stroke-width:0.1px">PC-9</text>
<path d="M319.95 307.50H546.05M319.95 347.00H546.05" stroke="#b4b4b4" stroke-width="0.90" fill="none"/>
<path d="M320.40 307.50V347.00M545.60 307.50V347.00" stroke="#a2a2a2" stroke-width="1.30" fill="none"/>
<path d="M357.60 347.30v-1.20M357.60 307.20v1.20" stroke="#6a6a6a" stroke-width="0.9"/>
<path d="M398.60 347.30v-1.20M398.60 307.20v1.20" stroke="#6a6a6a" stroke-width="0.9"/>
<path d="M439.60 347.30v-1.20M439.60 307.20v1.20" stroke="#6a6a6a" stroke-width="0.9"/>
<path d="M480.60 347.30v-1.20M480.60 307.20v1.20" stroke="#6a6a6a" stroke-width="0.9"/>
<path d="M521.60 347.30v-1.20M521.60 307.20v1.20" stroke="#6a6a6a" stroke-width="0.9"/>
<path d="M320.40 344.42h1.80M545.60 344.42h-1.80" stroke="#8c8c8c" stroke-width="0.7"/>
<path d="M320.40 325.96h1.80M545.60 325.96h-1.80" stroke="#8c8c8c" stroke-width="0.7"/>
<path d="M320.40 307.50h1.80M545.60 307.50h-1.80" stroke="#8c8c8c" stroke-width="0.7"/>
<svg x="318.90" y="306.00" width="227.00" height="42.50" viewBox="318.90 306.00 227.00 42.50" overflow="hidden">
<g transform="translate(320.40 0) scale(1.300 1)"><polyline points="0.23,307.6 3.85,324.8 6.54,347.2 10.31,347.2 13.92,338.1 17.46,340.3 20.85,345.5 23.31,342.2 25.85,340.5 27.54,340.3 31.31,343.1 34.69,343.9 38.23,341.4 41.77,342.5 44.31,344.2 45.31,345.2 48.62,342.5 52.00,341.1 55.38,343.4 58.69,343.9 62.46,342.5 65.85,343.6 69.23,345.4 73.00,343.9 76.31,342.7 79.69,343.9 83.08,343.9 86.38,343.6 88.92,344.2 93.23,345.3 96.62,343.9 100.00,343.1 104.15,345.0 110.85,344.1 115.92,344.7 120.92,344.5 126.00,345.0 131.00,343.5 133.00,343.7 134.69,344.5 140.54,346.0 146.38,344.5 153.15,345.5 159.00,344.7 164.85,346.1 169.92,344.4 173.23,345.0" fill="none" stroke="#1a2aff" stroke-width="1.70" stroke-linejoin="round" stroke-linecap="butt"/></g>
<g transform="translate(320.40 0) scale(1.300 1)"><polyline points="0.23,307.6 3.85,324.8 6.54,347.2 10.31,347.2 13.92,338.1 17.46,340.3 20.85,345.5 24.15,342.3 27.54,340.3 31.31,343.1 34.69,343.9 38.23,341.4 41.77,342.5 44.31,344.2 45.31,344.7 48.62,342.5 52.00,341.7 55.38,343.4 58.69,343.9 62.46,342.5 65.85,343.6 69.23,344.8 73.00,343.9 76.31,343.4 79.69,343.9 83.08,343.9 86.38,343.6 88.92,344.2 93.23,345.3 96.62,343.9 100.00,343.6 104.15,345.0 110.85,344.1 115.92,344.7 120.92,344.5 126.00,345.0 131.00,343.9 133.54,344.2 134.69,344.5 140.54,345.5 146.38,344.5 153.15,345.5 159.00,344.7 164.85,346.1 169.92,345.0 173.23,345.0" fill="none" stroke="#ff1a0a" stroke-width="1.85" stroke-linejoin="round" stroke-linecap="butt"/></g>
</svg>
<text font-size="7.80" text-anchor="middle" style="stroke-width:0.1px" transform="translate(357.60 356.60) scale(1.400 1)">0.5</text>
<text font-size="7.80" text-anchor="middle" style="stroke-width:0.1px" transform="translate(398.60 356.60) scale(1.400 1)">1</text>
<text font-size="7.80" text-anchor="middle" style="stroke-width:0.1px" transform="translate(439.60 356.60) scale(1.400 1)">1.5</text>
<text font-size="7.80" text-anchor="middle" style="stroke-width:0.1px" transform="translate(480.60 356.60) scale(1.400 1)">2</text>
<text font-size="7.80" text-anchor="middle" style="stroke-width:0.1px" transform="translate(521.60 356.60) scale(1.400 1)">2.5</text>
<text font-size="7.80" text-anchor="end" style="stroke-width:0.1px" transform="translate(315.20 347.12) scale(1.400 1)">0</text>
<text font-size="7.80" text-anchor="end" style="stroke-width:0.1px" transform="translate(315.20 328.66) scale(1.400 1)">0.5</text>
<text font-size="7.80" text-anchor="end" style="stroke-width:0.1px" transform="translate(315.20 310.20) scale(1.400 1)">1</text>
<text font-size="7.90" text-anchor="middle" style="stroke-width:0.12px" transform="translate(433.00 366.90) scale(1.557 1)">Lag (year)</text>
<text font-size="7.80" font-weight="bold" text-anchor="middle" letter-spacing="0.30" transform="translate(433.24 304.80) scale(1.580 1)" style="fill:#000;stroke:#000;stroke-width:0.1px">PC-10</text>
<path d="M23.95 381.30H250.05M23.95 420.80H250.05" stroke="#b4b4b4" stroke-width="0.90" fill="none"/>
<path d="M24.40 381.30V420.80M249.60 381.30V420.80" stroke="#a2a2a2" stroke-width="1.30" fill="none"/>
<path d="M61.60 421.10v-1.20M61.60 381.00v1.20" stroke="#6a6a6a" stroke-width="0.9"/>
<path d="M102.60 421.10v-1.20M102.60 381.00v1.20" stroke="#6a6a6a" stroke-width="0.9"/>
<path d="M143.60 421.10v-1.20M143.60 381.00v1.20" stroke="#6a6a6a" stroke-width="0.9"/>
<path d="M184.60 421.10v-1.20M184.60 381.00v1.20" stroke="#6a6a6a" stroke-width="0.9"/>
<path d="M225.60 421.10v-1.20M225.60 381.00v1.20" stroke="#6a6a6a" stroke-width="0.9"/>
<path d="M24.40 401.75h1.80M249.60 401.75h-1.80" stroke="#8c8c8c" stroke-width="0.7"/>
<path d="M24.40 381.30h1.80M249.60 381.30h-1.80" stroke="#8c8c8c" stroke-width="0.7"/>
<svg x="22.90" y="379.80" width="227.00" height="42.50" viewBox="22.90 379.80 227.00 42.50" overflow="hidden">
<g transform="translate(24.40 0) scale(1.300 1)"><polyline points="0.23,381.9 3.85,392.8 6.69,408.2 10.31,409.5 13.92,405.4 17.46,406.8 20.85,409.8 24.15,408.6 27.54,407.5 31.31,409.5 34.69,409.9 38.23,408.6 41.77,409.5 44.31,410.6 45.31,411.1 48.62,410.3 52.00,409.5 55.38,410.8 58.69,411.4 62.92,411.1 67.08,411.9 70.46,412.5 73.85,412.5 77.15,413.0 80.54,413.9 84.69,413.5 88.92,413.9 92.38,414.6 97.46,414.1 104.15,415.7 110.85,415.4 116.77,416.8 121.77,416.3 125.15,417.1 129.31,418.5 133.54,418.2 136.23,417.9 141.31,418.2 145.46,417.9 150.54,419.0 156.38,420.1 160.62,420.5 164.77,421.0 169.85,420.7 173.23,420.7" fill="none" stroke="#1a2aff" stroke-width="1.70" stroke-linejoin="round" stroke-linecap="butt"/></g>
<g transform="translate(24.40 0) scale(1.300 1)"><polyline points="0.23,381.9 3.85,392.8 6.69,408.4 10.31,409.7 13.92,405.4 17.46,407.0 20.85,410.3 24.15,409.5 27.54,408.6 31.31,410.6 34.69,410.8 38.23,409.5 41.77,410.3 44.31,411.4 45.31,412.1 48.62,411.0 52.00,410.3 55.38,411.7 58.69,412.5 62.92,412.1 67.08,413.0 70.46,413.5 73.85,413.2 77.15,413.9 80.54,415.0 84.69,414.6 88.92,415.0 92.38,415.7 97.46,415.4 104.15,417.1 110.85,416.5 116.77,417.9 121.77,417.4 125.15,417.9 129.31,419.0 133.54,418.7 136.23,418.7 141.31,419.0 145.46,418.7 150.54,420.1 156.38,420.6 160.62,421.0 164.77,421.5 169.85,421.2 173.23,421.2" fill="none" stroke="#ff1a0a" stroke-width="1.85" stroke-linejoin="round" stroke-linecap="butt"/></g>
</svg>
<text font-size="7.80" text-anchor="middle" style="stroke-width:0.1px" transform="translate(61.60 430.40) scale(1.400 1)">0.5</text>
<text font-size="7.80" text-anchor="middle" style="stroke-width:0.1px" transform="translate(102.60 430.40) scale(1.400 1)">1</text>
<text font-size="7.80" text-anchor="middle" style="stroke-width:0.1px" transform="translate(143.60 430.40) scale(1.400 1)">1.5</text>
<text font-size="7.80" text-anchor="middle" style="stroke-width:0.1px" transform="translate(184.60 430.40) scale(1.400 1)">2</text>
<text font-size="7.80" text-anchor="middle" style="stroke-width:0.1px" transform="translate(225.60 430.40) scale(1.400 1)">2.5</text>
<text font-size="7.80" text-anchor="end" style="stroke-width:0.1px" transform="translate(19.20 404.45) scale(1.400 1)">0.5</text>
<text font-size="7.80" text-anchor="end" style="stroke-width:0.1px" transform="translate(19.20 384.00) scale(1.400 1)">1</text>
<text font-size="7.90" text-anchor="middle" style="stroke-width:0.12px" transform="translate(137.00 440.60) scale(1.557 1)">Lag (year)</text>
<text font-size="7.80" font-weight="bold" text-anchor="middle" letter-spacing="0.30" transform="translate(137.24 378.70) scale(1.580 1)" style="fill:#000;stroke:#000;stroke-width:0.1px">PC-11</text>
<path d="M319.95 381.30H546.05M319.95 420.80H546.05" stroke="#b4b4b4" stroke-width="0.90" fill="none"/>
<path d="M320.40 381.30V420.80M545.60 381.30V420.80" stroke="#a2a2a2" stroke-width="1.30" fill="none"/>
<path d="M357.60 421.10v-1.20M357.60 381.00v1.20" stroke="#6a6a6a" stroke-width="0.9"/>
<path d="M398.60 421.10v-1.20M398.60 381.00v1.20" stroke="#6a6a6a" stroke-width="0.9"/>
<path d="M439.60 421.10v-1.20M439.60 381.00v1.20" stroke="#6a6a6a" stroke-width="0.9"/>
<path d="M480.60 421.10v-1.20M480.60 381.00v1.20" stroke="#6a6a6a" stroke-width="0.9"/>
<path d="M521.60 421.10v-1.20M521.60 381.00v1.20" stroke="#6a6a6a" stroke-width="0.9"/>
<path d="M320.40 420.80h1.80M545.60 420.80h-1.80" stroke="#8c8c8c" stroke-width="0.7"/>
<path d="M320.40 401.05h1.80M545.60 401.05h-1.80" stroke="#8c8c8c" stroke-width="0.7"/>
<path d="M320.40 381.30h1.80M545.60 381.30h-1.80" stroke="#8c8c8c" stroke-width="0.7"/>
<svg x="318.90" y="379.80" width="227.00" height="42.50" viewBox="318.90 379.80 227.00 42.50" overflow="hidden">
<g transform="translate(320.40 0) scale(1.300 1)"><polyline points="0.23,381.9 3.85,395.0 6.69,414.4 8.23,414.6 10.31,416.6 13.92,411.7 14.92,412.5 17.46,414.2 19.15,416.5 20.85,418.5 24.15,415.7 27.54,414.6 31.31,416.5 34.69,417.1 38.23,415.7 41.77,416.5 44.31,417.9 45.31,418.2 48.62,416.5 52.00,415.7 55.38,418.2 58.69,418.2 62.46,416.5 66.23,417.6 69.62,418.2 73.00,417.9 76.31,418.5 79.69,419.2 83.08,418.8 86.38,418.2 88.92,419.0 91.62,420.6 97.46,418.7 104.15,420.1 110.85,417.9 115.92,419.8 121.77,419.0 126.85,420.1 133.54,420.4 135.46,419.8 141.38,421.2 147.23,420.6 153.92,420.9 159.00,420.6 165.69,421.5 169.92,421.2 173.23,421.2" fill="none" stroke="#1a2aff" stroke-width="1.70" stroke-linejoin="round" stroke-linecap="butt"/></g>
<g transform="translate(320.40 0) scale(1.300 1)"><polyline points="0.23,381.9 3.85,395.0 6.69,414.6 10.31,416.8 13.92,411.7 17.46,413.9 20.85,417.9 24.15,415.7 27.54,414.6 31.31,416.5 34.69,417.1 38.23,415.7 41.77,416.5 44.31,417.9 45.31,418.2 48.62,416.5 52.00,415.7 55.38,417.4 58.69,417.9 62.46,416.8 66.23,417.6 69.62,418.2 73.00,417.9 76.31,418.5 79.69,419.2 83.08,418.8 86.38,418.2 88.92,419.0 91.62,419.8 97.46,418.7 104.15,420.1 110.85,418.8 115.92,419.8 121.77,419.0 126.85,420.1 133.54,420.4 135.46,420.4 141.38,421.2 147.23,420.6 153.92,420.9 159.00,420.6 165.69,421.5 169.92,421.2 173.23,421.2" fill="none" stroke="#ff1a0a" stroke-width="1.85" stroke-linejoin="round" stroke-linecap="butt"/></g>
</svg>
<text font-size="7.80" text-anchor="middle" style="stroke-width:0.1px" transform="translate(357.60 430.40) scale(1.400 1)">0.5</text>
<text font-size="7.80" text-anchor="middle" style="stroke-width:0.1px" transform="translate(398.60 430.40) scale(1.400 1)">1</text>
<text font-size="7.80" text-anchor="middle" style="stroke-width:0.1px" transform="translate(439.60 430.40) scale(1.400 1)">1.5</text>
<text font-size="7.80" text-anchor="middle" style="stroke-width:0.1px" transform="translate(480.60 430.40) scale(1.400 1)">2</text>
<text font-size="7.80" text-anchor="middle" style="stroke-width:0.1px" transform="translate(521.60 430.40) scale(1.400 1)">2.5</text>
<text font-size="7.80" text-anchor="end" style="stroke-width:0.1px" transform="translate(315.20 423.50) scale(1.400 1)">0</text>
<text font-size="7.80" text-anchor="end" style="stroke-width:0.1px" transform="translate(315.20 403.75) scale(1.400 1)">0.5</text>
<text font-size="7.80" text-anchor="end" style="stroke-width:0.1px" transform="translate(315.20 384.00) scale(1.400 1)">1</text>
<text font-size="7.90" text-anchor="middle" style="stroke-width:0.12px" transform="translate(433.00 440.60) scale(1.557 1)">Lag (year)</text>
<text font-size="7.80" font-weight="bold" text-anchor="middle" letter-spacing="0.30" transform="translate(433.24 378.70) scale(1.580 1)" style="fill:#000;stroke:#000;stroke-width:0.1px">PC-12</text>
</g></svg></body></html>
